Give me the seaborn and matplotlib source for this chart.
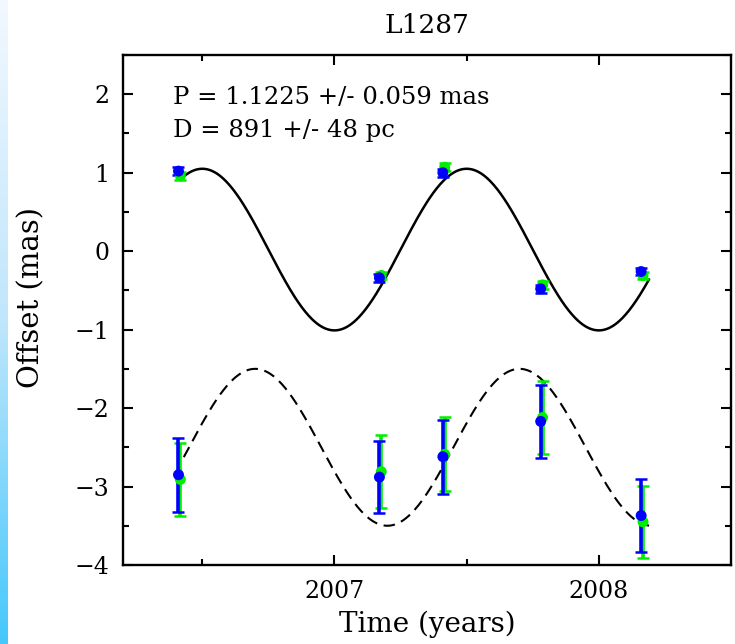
"""Parallax fit of L1287: offsets vs time with sinusoidal model curves."""

import matplotlib
matplotlib.use("Agg")
import matplotlib.pyplot as plt
import numpy as np
import pandas as pd
import seaborn as sns

# Observation epochs (decimal years); green points sit a little later
epochs_blue = [2006.41, 2007.17, 2007.41, 2007.78, 2008.16]
epochs_green = [2006.417, 2007.177, 2007.417, 2007.787, 2008.167]

# Upper series (mas)
top_blue = [1.02, -0.34, 1.00, -0.48, -0.26]
top_green = [0.96, -0.31, 1.07, -0.43, -0.31]
top_err = [0.05, 0.05, 0.05, 0.05, 0.05]

# Lower series (mas)
bot_blue = [-2.85, -2.88, -2.62, -2.17, -3.37]
bot_blue_err = [0.47, 0.46, 0.47, 0.47, 0.47]
bot_green = [-2.91, -2.81, -2.59, -2.12, -3.45]
bot_green_err = [0.47, 0.47, 0.47, 0.47, 0.46]

# Fitted sinusoids: (offset, amplitude, epoch of maximum), 1 yr period
fit_top = (0.02, 1.03, 2006.50)
fit_bot = (-2.5, 1.0, 2006.70)
fit_span = (2006.43, 2008.19)

title = "L1287"
note_lines = ["P = 1.1225 +/- 0.059 mas", "D = 891 +/- 48 pc"]

sns.set_style("ticks")
plt.rcParams["font.family"] = ["DejaVu Serif"]
plt.rcParams["text.color"] = "black"
plt.rcParams["axes.labelcolor"] = "black"

fig = plt.figure(figsize=(7.35, 6.44), dpi=100)
ax = fig.add_axes([0.1673, 0.1227, 0.8273, 0.7919])

# light blue slide edge at the left
strip = fig.add_axes([0, 0, 7 / 735, 1])
grad = np.linspace(0, 1, 256)[:, None]
cmap = matplotlib.colors.LinearSegmentedColormap.from_list(
    "edge", ["#f2f8ff", "#bfe6fb", "#45c8fb"])
strip.imshow(grad, aspect="auto", cmap=cmap, origin="upper")
strip.axis("off")

# model curves
t = np.linspace(fit_span[0], fit_span[1], 400)
curves = pd.DataFrame({
    "t": t,
    "top": fit_top[0] + fit_top[1] * np.cos(2 * np.pi * (t - fit_top[2])),
    "bot": fit_bot[0] + fit_bot[1] * np.cos(2 * np.pi * (t - fit_bot[2])),
})
sns.lineplot(data=curves, x="t", y="top", color="black", lw=1.8, ax=ax)
sns.lineplot(data=curves, x="t", y="bot", color="black", lw=1.5,
             linestyle=(0, (5.5, 3.2)), ax=ax)

# data points with error bars, green first then blue on top
series = [
    (epochs_green, top_green, top_err, "#00ee00"),
    (epochs_green, bot_green, bot_green_err, "#00ee00"),
    (epochs_blue, top_blue, top_err, "#0000ff"),
    (epochs_blue, bot_blue, bot_blue_err, "#0000ff"),
]
for x, y, err, col in series:
    ax.errorbar(x, y, yerr=err, fmt="none", ecolor=col, elinewidth=2.6,
                capsize=4, capthick=1.8, zorder=3)
    sns.scatterplot(x=x, y=y, color=col, s=62, edgecolor="none",
                    zorder=4, ax=ax)

ax.set_xlim(2006.2, 2008.5)
ax.set_ylim(-4, 2.5)
ax.set_xticks([2007, 2008])
ax.set_xticks([2006.5, 2007.5], minor=True)
ax.set_yticks(np.arange(-4, 3, 1))
ax.set_yticks(np.arange(-3.5, 2.6, 1), minor=True)

ax.tick_params(which="both", direction="in", top=True, right=True,
               width=1.5, colors="black", labelsize=17)
ax.tick_params(which="major", length=7.5)
ax.tick_params(which="minor", length=4)
ax.tick_params(axis="x", pad=11)
ax.tick_params(axis="y", pad=10)
for sp in ax.spines.values():
    sp.set_linewidth(1.7)
    sp.set_color("black")

ax.set_xlabel("Time (years)", fontsize=20)
ax.xaxis.set_label_coords(0.5, -0.089)
ax.set_ylabel("Offset (mas)", fontsize=21)
ax.yaxis.set_label_coords(-0.128, 0.525)
ax.set_title(title, fontsize=19, pad=16)

ax.text(0.082, 0.904, note_lines[0], transform=ax.transAxes,
        fontsize=17.5, va="baseline")
ax.text(0.082, 0.839, note_lines[1], transform=ax.transAxes,
        fontsize=17.5, va="baseline")

fig.savefig("out.png", dpi=100)
plt.close(fig)
